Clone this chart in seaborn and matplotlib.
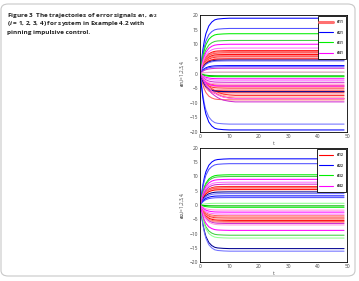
import numpy as np
import pandas as pd
import matplotlib
matplotlib.use("Agg")
import matplotlib.pyplot as plt
from matplotlib.lines import Line2D
from matplotlib.patches import FancyBboxPatch
import seaborn as sns

# ---------------- data ----------------
# time grid and normalized rise profiles of the trajectories
t_points = [0, 0.5, 1, 1.5, 2, 3, 4, 5, 6, 7, 8, 10, 12, 49]
fast_profile = [0, 0.22, 0.44, 0.6, 0.72, 0.86, 0.93, 0.97, 0.985, 0.99, 0.995, 1, 1, 1]
slow_profile = [0, 0.1, 0.22, 0.33, 0.43, 0.58, 0.7, 0.78, 0.85, 0.9, 0.94, 0.98, 1, 1]

# final values, e_i1 panel
e11_final = [7.8, 7.5, 7.2, 7.0, 6.8, 6.5, 6.2, 6.0, 5.7, 5.3, 5.0,
             -4.0, -4.5, -5.0, -5.5, -6.0, -6.5, -7.0, -7.5, -8.0, -8.5, -9.0]
e21_final = [18.9, 15.4, 4.6, 4.3, 2.7, 2.3, -6.2, -17.3, -19.3]
e31_final = [13.6, 11.3, 0.4, -0.8, -1.1]
e41_final = [10.0, 8.7, 1.8, 0.5, -1.8, -2.3, -3.0, -3.6, -4.3, -8.6, -9.7]

# final values, e_i2 panel
e12_final = [6.5, 6.3, 6.1, 5.9, 5.7, 5.4, -3.8, -4.2, -4.6, -5.0, -5.4, -5.8, -6.1]
e22_final = [16.2, 14.5, 4.6, 4.0, 3.2, 2.6, -15.3, -16.2]
e32_final = [10.6, 10.0, 0.6, -0.3, -0.8, -10.6, -11.6]
e42_final = [9.0, 8.0, 7.3, -1.8, -2.5, -3.2, -6.5, -7.0, -8.9]

top_labels = [r"$e_{11}$", r"$e_{21}$", r"$e_{31}$", r"$e_{41}$"]
bottom_labels = [r"$e_{12}$", r"$e_{22}$", r"$e_{32}$", r"$e_{42}$"]
x_ticks = [0, 10, 20, 30, 40, 50]
y_ticks = [-20, -15, -10, -5, 0, 5, 10, 15, 20]

caption_lines = [
    r"Figure 3  The trajectories of error signals $e_{i1}$, $e_{i2}$",
    r"($i$ = 1, 2, 3, 4) for system in Example 4.2 with",
    r"pinning impulsive control.",
]

# ---------------- style ----------------
sns.set_theme(style="white")
plt.rcParams["font.family"] = ["Open Sans", "DejaVu Sans"]
plt.rcParams["mathtext.fontset"] = "custom"
plt.rcParams["mathtext.it"] = "Open Sans:italic:bold"
plt.rcParams["mathtext.rm"] = "Open Sans:bold"

shades = {
    "r": ["#ff0000", "#ff6060", "#ff9090", "#ff3030", "#ffb0b0"],
    "b": ["#0000ff", "#5050ff", "#000090", "#7070ff"],
    "g": ["#00ee00", "#40d040", "#90ff90", "#00b000"],
    "m": ["#ff00ff", "#ff70ff", "#d030d0", "#ff99dd"],
}


def build_frame(groups):
    rows = []
    palette = {}
    for key, finals, slow_idx in groups:
        for j, f in enumerate(finals):
            lid = f"{key}{j}"
            prof = slow_profile if j in slow_idx else fast_profile
            palette[lid] = shades[key][j % len(shades[key])]
            for tt, p in zip(t_points, prof):
                rows.append((lid, tt, f * p))
    return pd.DataFrame(rows, columns=["lid", "t", "v"]), palette


W, H = 359, 281
fig = plt.figure(figsize=(W / 100, H / 100), dpi=100)
fig.patch.set_facecolor("white")

# rounded page frame
frame = FancyBboxPatch((1 / W, 5 / H), 354 / W, 272 / H,
                       boxstyle="round,pad=0,rounding_size=0.02",
                       transform=fig.transFigure, fill=False,
                       edgecolor="#c8c8c8", linewidth=0.8)
fig.add_artist(frame)

for k, line in enumerate(caption_lines):
    fig.text(7 / W, 1 - (15 + 8.8 * k) / H, line, fontsize=4.6,
             fontweight="bold", color="#222222", va="center", ha="left")

panels = [
    ((200, 15, 147, 117),
     [("r", e11_final, [18, 19, 20]), ("b", e21_final, []),
      ("g", e31_final, []), ("m", e41_final, [9, 10])],
     top_labels, r"$e_{i1}$,i=1,2,3,4.", True),
    ((200, 148, 147, 114),
     [("r", e12_final, []), ("b", e22_final, []),
      ("g", e32_final, []), ("m", e42_final, [])],
     bottom_labels, r"$e_{i2}$,i=1,2,3,4.", False),
]

for (x0, y0, w, h), groups, labels, ylab, thick_red in panels:
    ax = fig.add_axes([x0 / W, 1 - (y0 + h) / H, w / W, h / H])
    df, pal = build_frame(groups)
    sns.lineplot(data=df, x="t", y="v", hue="lid", palette=pal,
                 estimator=None, sort=False, legend=False,
                 linewidth=0.75, ax=ax)
    ax.set_xlim(0, 50)
    ax.set_ylim(-20, 20)
    ax.set_xticks(x_ticks)
    ax.set_yticks(y_ticks)
    ax.tick_params(direction="in", length=2, width=0.4, labelsize=3.5,
                   pad=1.5, colors="black", labelcolor="#444444")
    for s in ax.spines.values():
        s.set_color("black")
        s.set_linewidth(0.6)
    ax.set_xlabel("t", fontsize=3.5, labelpad=1.5, color="#444444")
    ax.set_ylabel(ylab, fontsize=3.3, labelpad=1.5, color="#444444")
    handles = [
        Line2D([], [], color="#ff7070" if thick_red else "#ff0000",
               lw=2.2 if thick_red else 0.8),
        Line2D([], [], color="#0000ff", lw=0.8),
        Line2D([], [], color="#00ee00", lw=0.8),
        Line2D([], [], color="#ff00ff", lw=0.8),
    ]
    leg = ax.legend(handles, labels, loc="upper right", fontsize=3.3,
                    frameon=True, fancybox=False, framealpha=1,
                    edgecolor="black", handlelength=3.0, handletextpad=0.6,
                    borderpad=0.4, labelspacing=0.55, borderaxespad=0.3)
    leg.get_frame().set_linewidth(0.6)

fig.savefig("out.png", dpi=100, facecolor="white")
